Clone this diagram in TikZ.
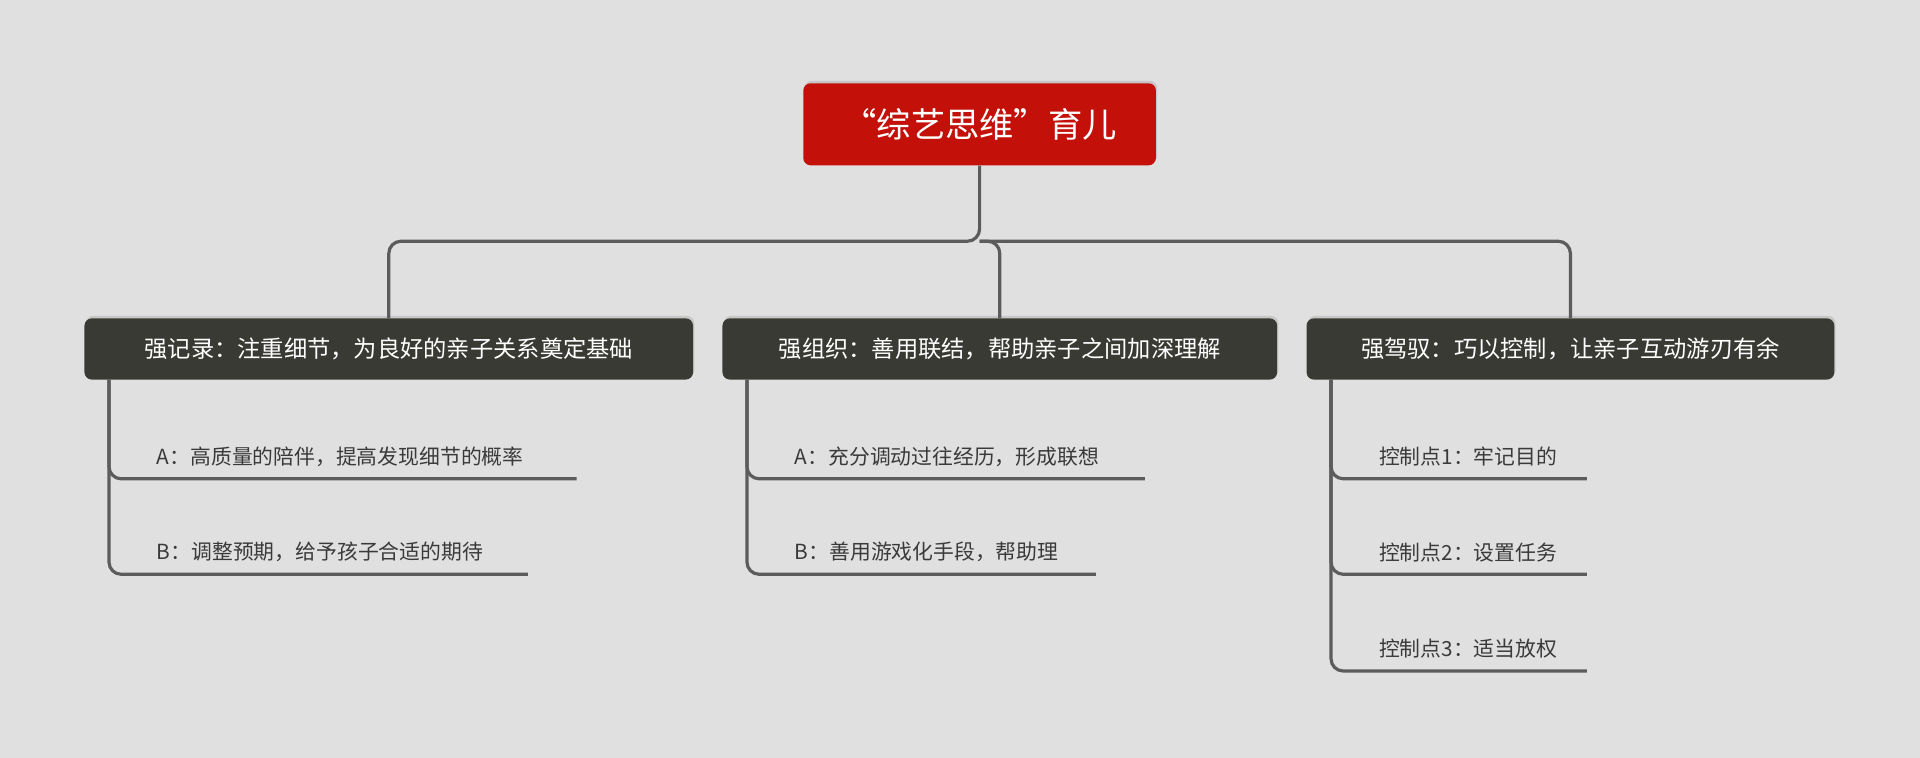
\documentclass[tikz,border=0pt]{standalone}
\usepackage{fontspec}
\setmainfont{Noto Sans CJK SC}
\usetikzlibrary{shadows}
\definecolor{bg}{HTML}{E0E0E0}
\definecolor{rootred}{HTML}{C3110A}
\definecolor{dark}{HTML}{3A3A35}
\definecolor{linegray}{HTML}{5C5C5C}
\definecolor{txt}{HTML}{3A3A3A}
\tikzset{
  root/.style={fill=rootred,rounded corners=6,text=white,minimum width=288,minimum height=67,
    font=\fontsize{28}{32}\selectfont,drop shadow={shadow xshift=1,shadow yshift=-2,opacity=0.25}},
  branch/.style={fill=dark,rounded corners=6,text=white,minimum height=50,
    font=\fontsize{19}{22}\selectfont,drop shadow={shadow xshift=1,shadow yshift=-2,opacity=0.25}},
  leaf/.style={anchor=south west,inner xsep=0,inner ysep=10,text=txt,font=\fontsize{17}{20}\selectfont},
  link/.style={draw=linegray,line width=2.6,rounded corners=10}
}
\begin{document}
\begin{tikzpicture}[x=1pt,y=-1pt]
  \fill[bg] (0,0) rectangle (1568,619);
  \node[root] (r) at (800,101.5) {“综艺思维”育儿};
  \node[branch,minimum width=497] (b1) at (317.5,285) {强记录：注重细节，为良好的亲子关系奠定基础};
  \node[branch,minimum width=453] (b2) at (816.5,285) {强组织：善用联结，帮助亲子之间加深理解};
  \node[branch,minimum width=431] (b3) at (1282.5,285) {强驾驭：巧以控制，让亲子互动游刃有余};
  \coordinate (j) at (800,197);
  \draw[link] (r.south) -- (j) -| (b1.north);
  \draw[link] (j) -| (b2.north);
  \draw[link] (j) -| (b3.north);
  % first branch
  \node[leaf] (a1) at (128,391) {A：高质量的陪伴，提高发现细节的概率};
  \node[leaf] (a2) at (128,469) {B：调整预期，给予孩子合适的期待};
  \coordinate (a1e) at (471,391);
  \coordinate (a2e) at (431,469);
  \draw[link] (89,310) |- (a1e);
  \draw[link] (89,310) |- (a2e);
  % second branch
  \node[leaf] (c1) at (649,391) {A：充分调动过往经历，形成联想};
  \node[leaf] (c2) at (649,469) {B：善用游戏化手段，帮助理};
  \coordinate (c1e) at (935,391);
  \coordinate (c2e) at (895,469);
  \draw[link] (610,310) |- (c1e);
  \draw[link] (610,310) |- (c2e);
  % third branch
  \node[leaf] (d1) at (1126,391) {控制点1：牢记目的};
  \node[leaf] (d2) at (1126,469) {控制点2：设置任务};
  \node[leaf] (d3) at (1126,548) {控制点3：适当放权};
  \foreach \n/\y in {d1e/391,d2e/469,d3e/548}{
    \coordinate (\n) at (1296,\y);
    \draw[link] (1087,310) |- (\n);
  }
\end{tikzpicture}
\end{document}
